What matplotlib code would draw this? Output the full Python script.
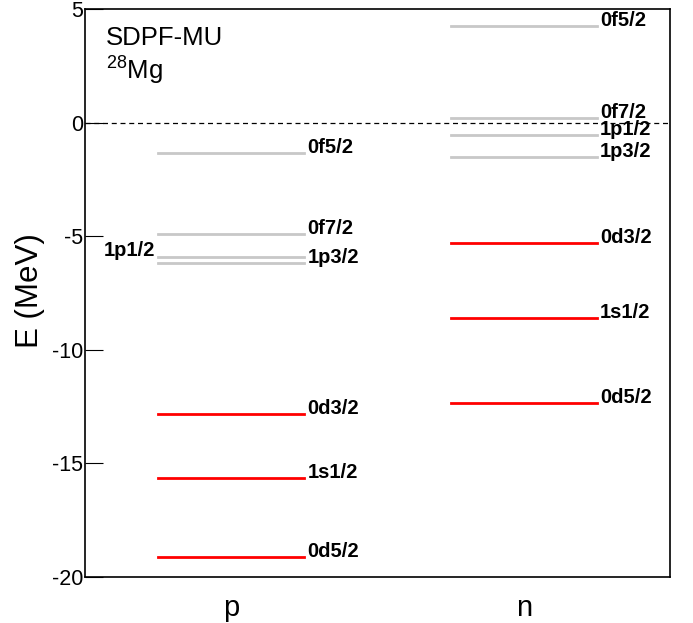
import numpy as np
import matplotlib
matplotlib.use("Agg")
import matplotlib.pyplot as plt

plt.rcParams['font.family'] = ['Liberation Sans', 'DejaVu Sans']
plt.rcParams['mathtext.fontset'] = 'custom'
plt.rcParams['mathtext.rm'] = 'Liberation Sans'
plt.rcParams['mathtext.default'] = 'regular'
plt.rcParams['axes.unicode_minus'] = False

# proton levels (MeV)
p_orb = ["0d5/2", "1s1/2", "0d3/2", "0f7/2", "1p3/2", "1p1/2", "0f5/2"]
p_E = [-19.12, -15.63, -12.83, -4.90, -6.19, -5.93, -1.32]
# neutron levels (MeV)
n_orb = ["0d5/2", "1s1/2", "0d3/2", "0f7/2", "1p3/2", "1p1/2", "0f5/2"]
n_E = [-12.33, -8.59, -5.31, 0.19, -1.50, -0.55, 4.27]
# occupied sd shell in red, fp shell in gray
shell = ["sd", "sd", "sd", "fp", "fp", "fp", "fp"]

fig = plt.figure(figsize=(6.93, 6.23), dpi=100)
ax = fig.add_axes([0.1227, 0.0738, 0.8441, 0.9118])

ax.axhline(0, color='black', lw=0.9, ls=(0, (4, 3)))

for x0, orb, E in [(1, p_orb, p_E), (3, n_orb, n_E)]:
    for o, e, s in zip(orb, E, shell):
        col = 'red' if s == "sd" else '#c8c8c8'
        ax.plot([x0 - 0.5, x0 + 0.5], [e, e], color=col, lw=2)
        if x0 == 1 and o == "1p1/2":
            ax.text(x0 - 0.52, e + 0.05, o, ha='right', va='baseline',
                    fontsize=14.5, fontweight='bold')
        else:
            ax.text(x0 + 0.52, e, o, ha='left', va='baseline',
                    fontsize=14.5, fontweight='bold')

ax.text(0.036, 0.937, "SDPF-MU", transform=ax.transAxes, fontsize=18.5)
ax.text(0.036, 0.875, r"$^{28}$Mg", transform=ax.transAxes, fontsize=18.5)

ax.set_xlim(0, 4)
ax.set_ylim(-20, 5)
ax.set_xticks([1, 3])
ax.set_xticklabels(["p", "n"], fontsize=21)
ax.tick_params(axis='x', length=0, pad=12)
ax.set_yticks(np.arange(-20, 6, 5))
ax.tick_params(axis='y', direction='in', length=13, labelsize=15.5, pad=1.5)
fig.text(30 / 693, 1 - 291 / 623, "E (MeV)", rotation=90, ha='center',
         va='center', fontsize=22.5)

for sp in ax.spines.values():
    sp.set_linewidth(1.2)

fig.savefig("out.png", dpi=100)
